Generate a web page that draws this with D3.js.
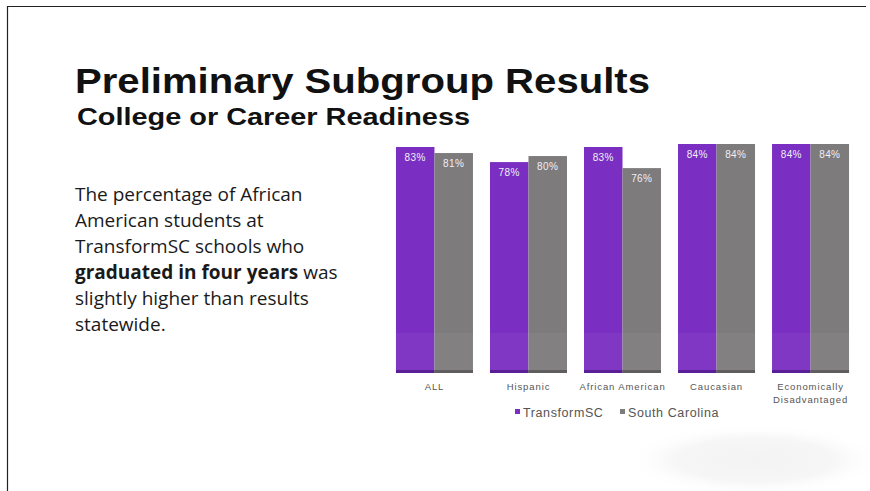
<!DOCTYPE html>
<html>
<head>
<meta charset="utf-8">
<script src="https://cdn.jsdelivr.net/npm/d3@7"></script>
<style>
  body { margin: 0; background: #fff; }
  svg { display: block; }
</style>
</head>
<body>
<svg id="slide" width="870" height="491"></svg>
<script>
// chart data
let categories = ["ALL", "Hispanic", "African American", "Caucasian", "Economically Disadvantaged"];
let seriesNames = ["TransformSC", "South Carolina"];
let transformSC = [83, 78, 83, 84, 84];
let southCarolina = [81, 80, 76, 84, 84];
let bodyLines = [
    [["The percentage of African", false]],
    [["American students at", false]],
    [["TransformSC schools who", false]],
    [["graduated in four years", true], [" was", false]],
    [["slightly higher than results", false]],
    [["statewide.", false]]
];

let colors = {"TransformSC": "#7a2fc2", "South Carolina": "#7d7b7b"};
let strokes = {"TransformSC": "#5a1f96", "South Carolina": "#5f5d5d"};

let svg = d3.select("#slide");

// slide frame (top and left edges of the screenshot)
svg.append("line").attr("x1", 7).attr("y1", 6.5).attr("x2", 866).attr("y2", 6.5)
    .attr("stroke", "#222").attr("stroke-width", 1.2);
svg.append("line").attr("x1", 7.5).attr("y1", 6).attr("x2", 7.5).attr("y2", 491)
    .attr("stroke", "#222").attr("stroke-width", 1.2);

// faint smudge bottom right
let defs = svg.append("defs");
let grad = defs.append("radialGradient").attr("id", "smudge");
grad.append("stop").attr("offset", "0%").attr("stop-color", "#f3f3f3");
grad.append("stop").attr("offset", "60%").attr("stop-color", "#f6f6f6");
grad.append("stop").attr("offset", "100%").attr("stop-color", "#fff").attr("stop-opacity", 0);
svg.append("ellipse").attr("cx", 755).attr("cy", 460).attr("rx", 130).attr("ry", 36)
    .attr("fill", "url(#smudge)");

// titles
svg.append("text").attr("x", 75).attr("y", 93)
    .style("font-family", "'Liberation Sans', Arial, sans-serif")
    .style("font-weight", "bold").style("font-size", "35px").attr("fill", "#111")
    .attr("textLength", 575).attr("lengthAdjust", "spacingAndGlyphs")
    .text("Preliminary Subgroup Results");
svg.append("text").attr("x", 77).attr("y", 125)
    .style("font-family", "'Liberation Sans', Arial, sans-serif")
    .style("font-weight", "bold").style("font-size", "23.5px").attr("fill", "#111")
    .attr("textLength", 393).attr("lengthAdjust", "spacingAndGlyphs")
    .text("College or Career Readiness");

// body text
let body = svg.append("text")
    .style("font-family", "'Open Sans', sans-serif")
    .style("font-size", "19px").attr("fill", "#1a1a1a");
bodyLines.forEach((parts, i) => {
    parts.forEach((p, j) => {
        let t = body.append("tspan").text(p[0]);
        if (j === 0) t.attr("x", 75).attr("y", 201 + i * 26);
        if (p[1]) t.style("font-weight", "bold");
    });
});

// scales
let yMin = 8;
let x0 = d3.scaleBand().domain(categories).range([387.5, 857.5])
    .paddingInner(0.181).paddingOuter(0.09);
let x1 = d3.scaleBand().domain(seriesNames).range([0, x0.bandwidth()]);
let y = d3.scaleLinear().domain([yMin, 84]).range([373, 144]);

let rows = categories.map((c, i) => ({
    category: c,
    values: [
        {series: "TransformSC", value: transformSC[i]},
        {series: "South Carolina", value: southCarolina[i]}
    ]
}));

let groups = svg.append("g").selectAll("g.barGroup")
    .data(rows).enter()
    .append("g")
    .classed("barGroup", true)
    .attr("transform", d => "translate(" + x0(d.category) + ",0)");

let bars = groups.selectAll("g.bar")
    .data(d => d.values).enter()
    .append("g").classed("bar", true);

bars.append("rect")
    .attr("x", d => x1(d.series))
    .attr("y", d => y(d.value))
    .attr("width", x1.bandwidth())
    .attr("height", d => y(yMin) - y(d.value))
    .attr("fill", d => colors[d.series]);

// darker bottom edge
bars.append("rect")
    .attr("x", d => x1(d.series))
    .attr("y", y(yMin) - 3)
    .attr("width", x1.bandwidth())
    .attr("height", 3)
    .attr("fill", d => strokes[d.series]);

// slight lighter band in lower part of bars
bars.append("rect")
    .attr("x", d => x1(d.series))
    .attr("y", 333)
    .attr("width", x1.bandwidth())
    .attr("height", 37)
    .attr("fill", "#fff").attr("opacity", 0.04);

bars.append("text")
    .attr("x", d => x1(d.series) + x1.bandwidth() / 2)
    .attr("y", d => y(d.value) + 14)
    .attr("text-anchor", "middle")
    .style("font-family", "'Liberation Sans', Arial, sans-serif")
    .style("font-size", "10px")
    .style("letter-spacing", "0.4px")
    .attr("fill", "#f2eef6")
    .text(d => d.value + "%");

// category labels
let catLabels = svg.append("g").selectAll("text")
    .data(categories).enter()
    .append("text")
    .attr("text-anchor", "middle")
    .style("font-family", "'Liberation Sans', Arial, sans-serif")
    .style("font-size", "9.5px")
    .style("letter-spacing", "0.9px")
    .attr("fill", "#555");
catLabels.each(function (d) {
    let cx = x0(d) + x0.bandwidth() / 2;
    let words = d === "Economically Disadvantaged" ? ["Economically", "Disadvantaged"] : [d];
    words.forEach((w, i) => {
        d3.select(this).append("tspan").attr("x", cx).attr("y", 390 + i * 12.5).text(w);
    });
});

// legend
let legendX = [515, 620];
let legend = svg.append("g").selectAll("g")
    .data(seriesNames).enter()
    .append("g")
    .attr("transform", (d, i) => "translate(" + legendX[i] + ",417)");
legend.append("rect").attr("x", 0).attr("y", -8).attr("width", 5).attr("height", 5)
    .attr("fill", d => colors[d]);
legend.append("text").attr("x", 8).attr("y", 0)
    .style("font-family", "'Liberation Sans', Arial, sans-serif")
    .style("font-size", "12.5px")
    .style("letter-spacing", "0.6px")
    .attr("fill", "#555")
    .text(d => d);
</script>
</body>
</html>
